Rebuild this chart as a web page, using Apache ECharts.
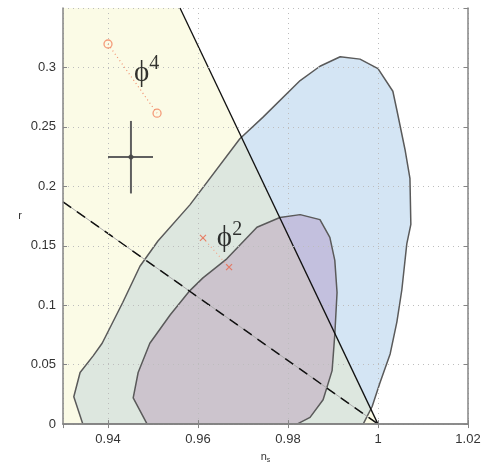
<!DOCTYPE html>
<html>
<head>
<meta charset="utf-8">
<script src="https://cdn.jsdelivr.net/npm/echarts@6/dist/echarts.min.js"></script>
<style>
  html, body { margin: 0; padding: 0; background: #fff; }
  #main { width: 484px; height: 469px; }
</style>
</head>
<body>
<div id="main"></div>
<script>
// outer contour (blue / greenish where it sits left of the solid line)
var outerX = [0.9344, 0.9324, 0.9338, 0.9367, 0.9387, 0.9433, 0.9471, 0.9511, 0.9582, 0.9693, 0.9744, 0.9827, 0.9871, 0.9916, 0.9960, 1.0000, 1.0033, 1.0042, 1.0060, 1.0071, 1.0073, 1.0064, 1.0053, 1.0042, 1.0027, 1.0004, 0.9987, 0.9967];
var outerY = [0, 0.023, 0.0434, 0.0574, 0.068, 0.1025, 0.1328, 0.154, 0.1844, 0.240, 0.258, 0.289, 0.301, 0.309, 0.307, 0.299, 0.280, 0.264, 0.231, 0.2066, 0.168, 0.1516, 0.113, 0.086, 0.059, 0.0344, 0.0148, 0];

// inner contour (purple)
var innerX = [0.9487, 0.9456, 0.9467, 0.9493, 0.9538, 0.9582, 0.9611, 0.9664, 0.9731, 0.9782, 0.9827, 0.9871, 0.9893, 0.9904, 0.9909, 0.9904, 0.9898, 0.9878, 0.9849, 0.9820];
var innerY = [0, 0.0221, 0.0434, 0.068, 0.0918, 0.1123, 0.123, 0.139, 0.1656, 0.1738, 0.1762, 0.172, 0.157, 0.1377, 0.1107, 0.0754, 0.045, 0.0205, 0.0057, 0];

// straight lines
var solidX = [0.956, 1.0], solidY = [0.35, 0];
var dashX = [0.93, 1.0], dashY = [0.187, 0];

// model points
var phi4X = [0.940, 0.9509], phi4Y = [0.3197, 0.2615];
var phi2X = [0.9611, 0.9669], phi2Y = [0.1566, 0.132];

// error bar cross
var errCenter = [0.9451, 0.2246];
var errX = [0.940, 0.950];
var errY = [0.194, 0.255];

var xMin = 0.93, xMax = 1.02, yMin = 0, yMax = 0.35;

function zip(xs, ys) {
  return xs.map(function (x, i) { return [x, ys[i]]; });
}

// keep the part of a polygon right of the solid line
function clipRight(poly, a, b) {
  function side(p) {
    return (b[0] - a[0]) * (p[1] - a[1]) - (b[1] - a[1]) * (p[0] - a[0]);
  }
  var out = [];
  for (var i = 0; i < poly.length; i++) {
    var p = poly[i], q = poly[(i + 1) % poly.length];
    var sp = side(p), sq = side(q);
    if (sp >= 0) out.push(p);
    if ((sp >= 0) !== (sq >= 0)) {
      var t = sp / (sp - sq);
      out.push([p[0] + t * (q[0] - p[0]), p[1] + t * (q[1] - p[1])]);
    }
  }
  return out;
}

function polySeries(points, color, z) {
  return {
    type: 'custom',
    coordinateSystem: 'cartesian2d',
    silent: true,
    clip: true,
    z: z,
    data: [points[0]],
    renderItem: function (params, api) {
      return {
        type: 'polygon',
        shape: { points: points.map(function (p) { return api.coord(p); }) },
        style: { fill: color, stroke: null }
      };
    }
  };
}

function lineSeries(points, color, width, type, z) {
  return {
    type: 'line',
    data: points,
    symbol: 'none',
    silent: true,
    z: z,
    lineStyle: { color: color, width: width, type: type }
  };
}

var lineA = [solidX[0], solidY[0]], lineB = [solidX[1], solidY[1]];
var outer = zip(outerX, outerY);
var inner = zip(innerX, innerY);
var yellow = [[xMin, yMin], [xMin, yMax], lineA, lineB];

var myChart = echarts.init(document.getElementById('main'));

var axisCommon = {
  axisLine: { show: true, lineStyle: { color: '#858585', width: 1.5 } },
  axisTick: { show: true, inside: true, length: 4, lineStyle: { color: '#858585' } },
  splitLine: { show: true, lineStyle: { color: '#bdbdbd', type: [1, 4], width: 1 } }
};

var option = {
  animation: false,
  backgroundColor: '#fff',
  grid: { left: 63, right: 16, top: 8, bottom: 34 },
  xAxis: [{
    type: 'value', min: xMin, max: xMax, splitNumber: 5, z: 10,
    axisLine: axisCommon.axisLine, axisTick: axisCommon.axisTick, splitLine: axisCommon.splitLine,
    axisLabel: { showMinLabel: false, color: '#333', fontSize: 13, fontFamily: 'Liberation Sans', margin: 9 },
    name: 'n{s|s}', nameLocation: 'middle', nameGap: 22,
    nameTextStyle: { color: '#333', fontSize: 11, fontFamily: 'Liberation Sans',
      rich: { s: { fontSize: 7, padding: [8, 0, 0, 0], color: '#333' } } }
  }, {
    type: 'value', position: 'top', min: xMin, max: xMax, splitNumber: 5, z: 10,
    axisLine: axisCommon.axisLine, axisTick: axisCommon.axisTick,
    axisLabel: { show: false }, splitLine: { show: false }
  }],
  yAxis: [{
    type: 'value', min: yMin, max: yMax, interval: 0.05, z: 10,
    axisLine: axisCommon.axisLine, axisTick: axisCommon.axisTick, splitLine: axisCommon.splitLine,
    axisLabel: { showMaxLabel: false, color: '#333', fontSize: 13, fontFamily: 'Liberation Sans', margin: 7 },
    name: 'r', nameLocation: 'middle', nameGap: 41, nameRotate: 0,
    nameTextStyle: { color: '#333', fontSize: 11, fontFamily: 'Liberation Sans' }
  }, {
    type: 'value', position: 'right', min: yMin, max: yMax, interval: 0.05, z: 10,
    axisLine: axisCommon.axisLine, axisTick: axisCommon.axisTick,
    axisLabel: { show: false }, splitLine: { show: false }
  }],
  series: [
    polySeries(yellow, '#fbfbe6', 1),
    polySeries(outer, '#dde7df', 2),
    polySeries(clipRight(outer, lineA, lineB), '#d4e5f4', 3),
    polySeries(inner, '#ccc4cd', 4),
    polySeries(clipRight(inner, lineA, lineB), '#c3c0de', 5),
    lineSeries(outer.concat([outer[0]]), '#5a5a5a', 1.5, 'solid', 6),
    lineSeries(inner.concat([inner[0]]), '#5a5a5a', 1.5, 'solid', 6),
    lineSeries(zip(dashX, dashY), '#a8a8a8', 1, 'solid', 7),
    lineSeries(zip(dashX, dashY), '#111', 1.5, [10, 7], 8),
    lineSeries(zip(solidX, solidY), '#111', 1.3, 'solid', 8),
    // error cross
    lineSeries([[errX[0], errCenter[1]], [errX[1], errCenter[1]]], '#5f5f5f', 2, 'solid', 9),
    lineSeries([[errCenter[0], errY[0]], [errCenter[0], errY[1]]], '#5f5f5f', 2, 'solid', 9),
    {
      type: 'scatter', data: [errCenter], symbol: 'circle', symbolSize: 5, z: 9, silent: true,
      itemStyle: { color: '#444' }
    },
    // phi^4 points
    lineSeries(zip(phi4X, phi4Y), '#f2906e', 1.2, [1, 3], 9),
    {
      type: 'scatter', data: zip(phi4X, phi4Y), symbol: 'circle', symbolSize: 8, z: 10, silent: true,
      itemStyle: { color: 'rgba(0,0,0,0)', borderColor: '#f2835e', borderWidth: 1.3 }
    },
    // phi^2 points
    lineSeries(zip(phi2X, phi2Y), '#f2a58a', 1.2, [1, 3], 9),
    {
      type: 'scatter', data: zip(phi2X, phi2Y), symbol: 'path://M0,0L10,10M10,0L0,10', symbolSize: 6, z: 10, silent: true,
      itemStyle: { color: 'rgba(0,0,0,0)', borderColor: '#e8664a', borderWidth: 1.2 }
    },
    // labels
    {
      type: 'scatter', symbolSize: 0, z: 11, silent: true,
      data: [
        { value: [0.9486, 0.297], label: { formatter: '{a|\u03d5}{b|4}' } },
        { value: [0.9670, 0.158], label: { formatter: '{a|\u03d5}{b|2}' } }
      ],
      label: {
        show: true, position: 'inside', color: '#000',
        rich: {
          a: { fontFamily: 'Liberation Serif', fontSize: 29, color: '#000', lineHeight: 34, verticalAlign: 'bottom' },
          b: { fontFamily: 'Liberation Serif', fontSize: 20, color: '#000', verticalAlign: 'top', lineHeight: 34 }
        }
      }
    }
  ]
};

myChart.setOption(option);
</script>
</body>
</html>
